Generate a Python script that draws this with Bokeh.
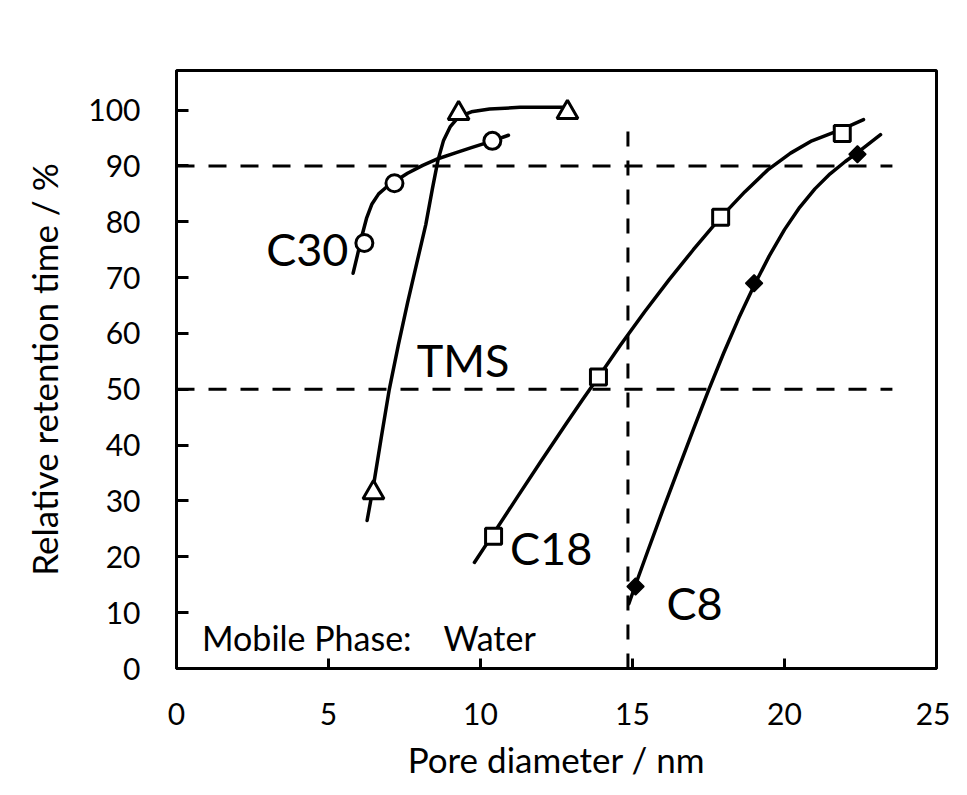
import math
from bokeh.plotting import figure
from bokeh.models import Range1d, FixedTicker
from bokeh.core.properties import value
from bokeh.embed import file_html
from bokeh.resources import INLINE

# ---- data ----
# measured points
c30_x = [6.18, 7.17, 10.39]
c30_y = [76.2, 86.9, 94.5]
tms_x = [6.48, 9.28, 12.86]
tms_y = [31.5, 99.4, 99.6]
c18_x = [10.43, 13.88, 17.9, 21.9]
c18_y = [23.7, 52.2, 80.8, 95.8]
c8_x = [15.1, 19.0, 22.4]
c8_y = [14.7, 69.0, 92.1]

# trend curves
c30_curve_x = [5.81, 5.95, 6.1, 6.25, 6.43, 6.65, 6.9, 7.2, 7.6, 8.1, 8.6, 9.2, 9.7, 10.4, 10.92]
c30_curve_y = [70.8, 74.0, 77.5, 80.6, 83.2, 85.0, 86.2, 87.3, 88.7, 90.1, 91.3, 92.4, 93.3, 94.5, 95.5]
tms_curve_x = [6.27, 6.49, 6.74, 7.0, 7.3, 7.6, 7.9, 8.2, 8.42, 8.6, 8.78, 9.0, 9.28, 9.7, 10.3, 11.3, 12.86]
tms_curve_y = [26.5, 33.1, 41.5, 50.0, 58.0, 65.5, 72.5, 79.5, 86.0, 91.0, 94.5, 97.0, 98.8, 99.7, 100.2, 100.5, 100.5]
c18_curve_x = [9.8, 10.43, 11.2, 12.0, 12.8, 13.35, 13.88, 14.6, 15.4, 16.2, 17.0, 17.9, 18.7, 19.45, 20.2, 20.9, 21.9, 22.6]
c18_curve_y = [19.0, 24.2, 30.6, 37.2, 43.7, 48.1, 52.2, 57.9, 63.9, 69.6, 75.0, 80.8, 85.4, 89.3, 92.3, 94.5, 96.6, 98.3]
c8_curve_x = [14.88, 15.1, 15.5, 16.0, 16.5, 17.0, 17.5, 18.0, 18.5, 19.0, 19.5, 20.0, 20.5, 21.0, 21.5, 22.0, 22.4, 23.16]
c8_curve_y = [11.6, 15.0, 21.0, 28.4, 35.6, 42.8, 49.8, 56.5, 62.8, 68.6, 73.9, 78.6, 82.6, 85.9, 88.6, 90.8, 92.4, 95.6]

# dashed reference lines
ref_h_levels = [90, 50]
ref_h_x = [0, 23.55]
ref_v_x = 14.85
ref_v_y = [0, 96.5]

x_ticks = [0, 5, 10, 15, 20, 25]
y_ticks = [0, 10, 20, 30, 40, 50, 60, 70, 80, 90, 100]

FONT = "Lato"

p = figure(width=950, height=787, output_backend="svg", toolbar_location=None,
           x_range=Range1d(0, 25), y_range=Range1d(0, 107.1),
           min_border_left=176, min_border_right=14, min_border_top=70, min_border_bottom=119)
p.grid.visible = False
p.background_fill_color = "white"
p.border_fill_color = "white"
p.outline_line_color = "black"
p.outline_line_width = 3
p.outline_line_alpha = 1

for ax in (p.xaxis[0], p.yaxis[0]):
    ax.axis_line_width = 3
    ax.axis_line_color = "black"
    ax.major_tick_line_width = 3
    ax.major_tick_line_color = "black"
    ax.major_tick_out = 0
    ax.minor_tick_line_color = None
    ax.major_label_text_font = FONT
    ax.major_label_text_font_size = "30px"
    ax.major_label_text_color = "black"
    ax.axis_label_text_font = FONT
    ax.axis_label_text_font_size = "35px"
    ax.axis_label_text_font_style = "normal"
    ax.axis_label_text_color = "black"

p.xaxis[0].ticker = FixedTicker(ticks=x_ticks)
p.yaxis[0].ticker = FixedTicker(ticks=y_ticks)
p.xaxis[0].major_tick_in = 10
p.yaxis[0].major_tick_in = 12
p.xaxis[0].major_label_standoff = 34
p.yaxis[0].major_label_standoff = 36
p.xaxis[0].axis_label = "Pore diameter / nm"
p.yaxis[0].axis_label = "Relative retention time / %"
p.xaxis[0].axis_label_standoff = 10
p.yaxis[0].axis_label_standoff = 20

# reference dashed lines
for lvl in ref_h_levels:
    p.line(ref_h_x, [lvl, lvl], line_color="black", line_width=3, line_dash="18 14")
p.line([ref_v_x, ref_v_x], ref_v_y, line_color="black", line_width=3, line_dash="15 14")

# curves
for cx, cy in ((c30_curve_x, c30_curve_y), (tms_curve_x, tms_curve_y),
               (c18_curve_x, c18_curve_y), (c8_curve_x, c8_curve_y)):
    p.line(cx, cy, line_color="black", line_width=3.5, line_join="round", line_cap="round")

# markers
p.scatter(c30_x, c30_y, marker="circle", size=17, fill_color="white", line_color="black", line_width=3)
p.scatter(tms_x, tms_y, marker="triangle", size=21, fill_color="white", line_color="black", line_width=3)
p.scatter(c18_x, c18_y, marker="square", size=16, fill_color="white", line_color="black", line_width=3)
p.scatter(c8_x, c8_y, marker="square", size=12, angle=math.pi / 4,
          fill_color="black", line_color="black", line_width=1.5)

# labels
lab_kw = dict(text_font=value(FONT), text_font_size="45px", text_color="black",
              text_baseline="alphabetic", text_align="left")
p.text(x=[2.95], y=[75.1], text=["C30"], **lab_kw)
p.text(x=[7.9], y=[55.2], text=["TMS"], **lab_kw)
p.text(x=[10.97], y=[21.6], text=["C18"], **lab_kw)
p.text(x=[16.12], y=[11.7], text=["C8"], **lab_kw)
small_kw = dict(text_font=value(FONT), text_font_size="34px", text_color="black",
                text_baseline="alphabetic", text_align="left")
p.text(x=[0.84], y=[5.6], text=["Mobile Phase:"], **small_kw)
p.text(x=[8.78], y=[5.6], text=["Water"], **small_kw)

open("out.html", "w").write(file_html(p, INLINE))
